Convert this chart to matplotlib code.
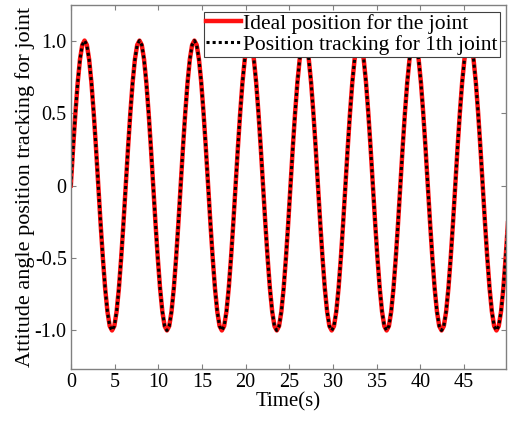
import matplotlib
matplotlib.use('Agg')
import matplotlib.pyplot as plt
import numpy as np

ideal = [
    0, .26, .5, .71, .87, .97, 1, .97, .87, .71, .5, .26, 0, -.26, -.5, -.71, -.87, -.97, -1, -.97, -.87, -.71, -.5, -.26,
    0, .26, .5, .71, .87, .97, 1, .97, .87, .71, .5, .26, 0, -.26, -.5, -.71, -.87, -.97, -1, -.97, -.87, -.71, -.5, -.26,
    0, .26, .5, .71, .87, .97, 1, .97, .87, .71, .5, .26, 0, -.26, -.5, -.71, -.87, -.97, -1, -.97, -.87, -.71, -.5, -.26,
    0, .26, .5, .71, .87, .97, 1, .97, .87, .71, .5, .26, 0, -.26, -.5, -.71, -.87, -.97, -1, -.97, -.87, -.71, -.5, -.26,
    0, .26, .5, .71, .87, .97, 1, .97, .87, .71, .5, .26, 0, -.26, -.5, -.71, -.87, -.97, -1, -.97, -.87, -.71, -.5, -.26,
    0, .26, .5, .71, .87, .97, 1, .97, .87, .71, .5, .26, 0, -.26, -.5, -.71, -.87, -.97, -1, -.97, -.87, -.71, -.5, -.26,
    0, .26, .5, .71, .87, .97, 1, .97, .87, .71, .5, .26, 0, -.26, -.5, -.71, -.87, -.97, -1, -.97, -.87, -.71, -.5, -.26,
    0, .26, .5, .71, .87, .97, 1, .97, .87, .71, .5, .26, 0, -.26, -.5, -.71, -.87, -.97, -1, -.97, -.87, -.71, -.5, -.26,
]
# tracking overlaps the ideal curve everywhere in the figure
tracking = list(ideal)
t = np.linspace(0, 50.0, len(ideal))

xticks = [0, 5, 10, 15, 20, 25, 30, 35, 40, 45]
yticks = [-1.0, -0.5, 0, 0.5, 1.0]
yticklabels = ['-1.0', '-0.5', '0', '0.5', '1.0']

plt.rcParams['font.family'] = ['Liberation Serif', 'DejaVu Serif']

fig = plt.figure(figsize=(5.17, 4.23), dpi=100)
ax = fig.add_axes([0.137, 0.128, 0.842, 0.86])

ax.plot(t, ideal, color='#ff1010', lw=3.2, label='Ideal position for the joint')
ax.plot(t, tracking, color='black', lw=2.2, ls=(0, (1, 1)),
        label='Position tracking for 1th joint')

ax.set_xlim(0, 49.8)
ax.set_ylim(-1.265, 1.245)
ax.set_xticks(xticks)
ax.set_yticks(yticks)
ax.set_yticklabels(yticklabels)

for s in ax.spines.values():
    s.set_color('#808080')
    s.set_linewidth(1.0)
ax.tick_params(direction='in', length=3.5, width=0.8, color='#808080',
               top=True, right=True, labelsize=14.5, pad=3)

ax.set_xlabel('Time(s)', fontsize=15, labelpad=0)
ax.set_ylabel('Attitude angle position tracking for joint', fontsize=16, labelpad=0)

leg = ax.legend(loc='upper right', fontsize=15.5, frameon=True, fancybox=False,
                borderaxespad=0.3, borderpad=0.1, labelspacing=0.05,
                handlelength=1.6, handletextpad=0.1)
leg.get_frame().set_edgecolor('#404040')
leg.get_frame().set_linewidth(0.8)
leg.get_frame().set_alpha(1)

fig.savefig('out.png', dpi=100)
